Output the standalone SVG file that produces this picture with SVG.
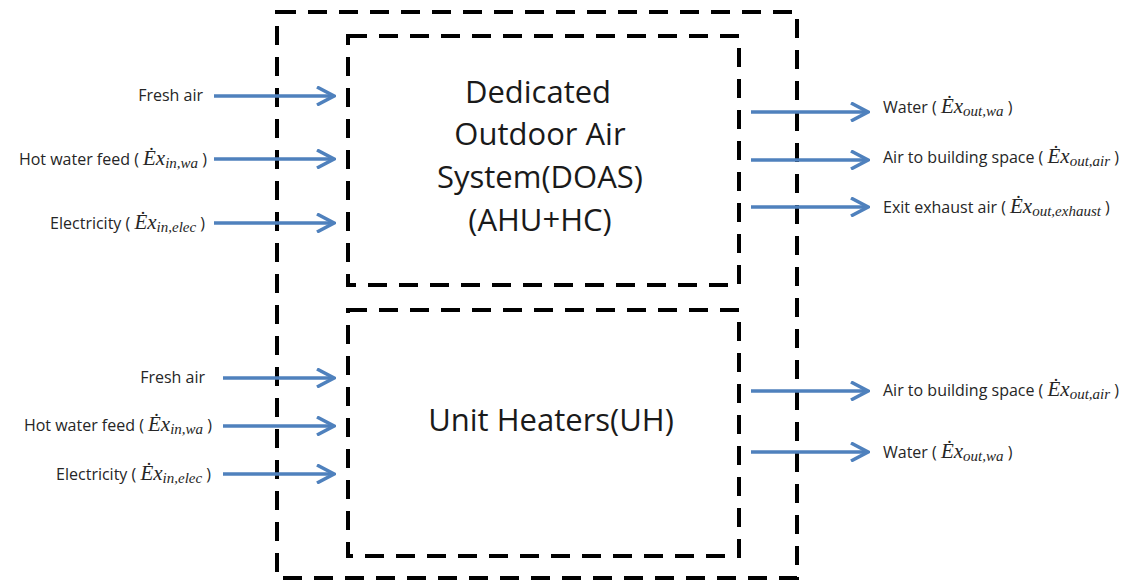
<svg xmlns="http://www.w3.org/2000/svg" width="1138" height="582" viewBox="0 0 1138 582">
<style>
.box{fill:none;stroke:#000;stroke-width:4;stroke-dasharray:19 12}
.big{font-family:"Open Sans","Liberation Sans",sans-serif;font-size:31px;fill:#1a1a1a;text-anchor:middle}
.lbl{font-family:"Open Sans","Liberation Sans",sans-serif;font-size:16px;fill:#262626}
.end{text-anchor:end}
.m{font-family:"Liberation Serif",serif;font-style:italic;font-size:21px}
.s{font-family:"Liberation Serif",serif;font-style:italic;font-size:15px}
.arr{stroke:#4F81BD;stroke-width:3.5;fill:none;marker-end:url(#ah)}
</style>
<defs>
<marker id="ah" viewBox="0 0 20 20" markerWidth="20" markerHeight="20" refX="18" refY="10" markerUnits="userSpaceOnUse" orient="auto">
<path d="M1,1 L18,10 L1,19" fill="none" stroke="#4F81BD" stroke-width="3.5"/>
</marker>
</defs>
<rect width="1138" height="582" fill="#fff"/>
<g id="outer"><rect class="box" x="277" y="12" width="520" height="566"/></g>
<g id="doas">
<rect class="box" x="348" y="36" width="391" height="249"/>
<text class="big" x="538" y="103">Dedicated</text>
<text class="big" x="540" y="145">Outdoor Air</text>
<text class="big" x="540" y="188">System(DOAS)</text>
<text class="big" x="540" y="231">(AHU+HC)</text>
</g>
<g id="uh">
<rect class="box" x="348" y="310" width="391" height="246"/>
<text class="big" x="551" y="431">Unit Heaters(UH)</text>
</g>
<g id="connectors">
<line class="arr" x1="214" y1="96" x2="334" y2="96"/>
<line class="arr" x1="214" y1="159" x2="334" y2="159"/>
<line class="arr" x1="214" y1="223" x2="334" y2="223"/>
<line class="arr" x1="751" y1="112" x2="868" y2="112"/>
<line class="arr" x1="751" y1="160" x2="868" y2="160"/>
<line class="arr" x1="751" y1="207" x2="868" y2="207"/>
<line class="arr" x1="223" y1="378" x2="334" y2="378"/>
<line class="arr" x1="223" y1="426" x2="334" y2="426"/>
<line class="arr" x1="223" y1="474" x2="334" y2="474"/>
<line class="arr" x1="751" y1="391" x2="868" y2="391"/>
<line class="arr" x1="751" y1="452" x2="868" y2="452"/>
</g>
<g id="labels">
<text class="lbl end" x="203" y="101">Fresh air</text>
<text class="lbl end" x="207" y="165">Hot water feed ( <tspan class="m">Ėx</tspan><tspan class="s" dy="3">in,wa</tspan><tspan dy="-3"> )</tspan></text>
<text class="lbl end" x="205" y="229">Electricity ( <tspan class="m">Ėx</tspan><tspan class="s" dy="3">in,elec</tspan><tspan dy="-3"> )</tspan></text>
<text class="lbl" x="883" y="113">Water ( <tspan class="m">Ėx</tspan><tspan class="s" dy="3">out,wa</tspan><tspan dy="-3"> )</tspan></text>
<text class="lbl" x="883" y="163">Air to building space ( <tspan class="m">Ėx</tspan><tspan class="s" dy="3">out,air</tspan><tspan dy="-3"> )</tspan></text>
<text class="lbl" x="883" y="213">Exit exhaust air ( <tspan class="m">Ėx</tspan><tspan class="s" dy="3">out,exhaust</tspan><tspan dy="-3"> )</tspan></text>
<text class="lbl end" x="205" y="383">Fresh air</text>
<text class="lbl end" x="212" y="431">Hot water feed ( <tspan class="m">Ėx</tspan><tspan class="s" dy="3">in,wa</tspan><tspan dy="-3"> )</tspan></text>
<text class="lbl end" x="211" y="480">Electricity ( <tspan class="m">Ėx</tspan><tspan class="s" dy="3">in,elec</tspan><tspan dy="-3"> )</tspan></text>
<text class="lbl" x="883" y="396">Air to building space ( <tspan class="m">Ėx</tspan><tspan class="s" dy="3">out,air</tspan><tspan dy="-3"> )</tspan></text>
<text class="lbl" x="883" y="458">Water ( <tspan class="m">Ėx</tspan><tspan class="s" dy="3">out,wa</tspan><tspan dy="-3"> )</tspan></text>
</g>
</svg>
